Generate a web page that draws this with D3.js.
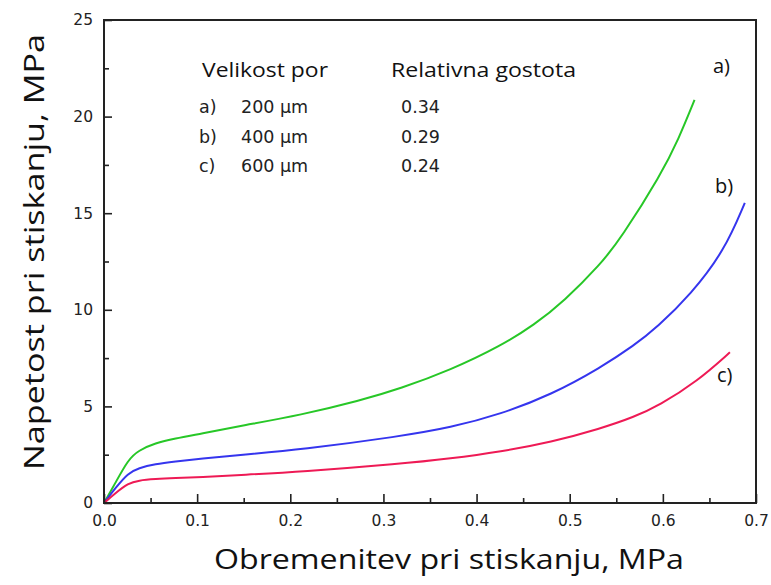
<!DOCTYPE html>
<html><head><meta charset="utf-8">
<script src="https://cdn.jsdelivr.net/npm/d3@7"></script>
<style>body{margin:0;background:#fff}svg{display:block}</style>
</head><body>
<script>
// ---- data ----
const xA = [0, 0.012, 0.026, 0.037, 0.055, 0.076, 0.103, 0.15, 0.211, 0.275, 0.318, 0.372, 0.426, 0.462, 0.494, 0.533, 0.555, 0.598, 0.617, 0.634];
const yA = [0, 1.02, 2.25, 2.72, 3.10, 3.34, 3.58, 4.02, 4.55, 5.30, 5.92, 6.88, 8.13, 9.22, 10.45, 12.35, 13.70, 17.0, 18.85, 20.86];
const xB = [0, 0.012, 0.026, 0.037, 0.055, 0.076, 0.103, 0.15, 0.211, 0.318, 0.372, 0.426, 0.48, 0.533, 0.569, 0.594, 0.630, 0.666, 0.688];
const yB = [0, 0.76, 1.55, 1.81, 2.02, 2.15, 2.30, 2.50, 2.76, 3.45, 3.90, 4.60, 5.60, 7.00, 8.15, 9.10, 10.80, 13.05, 15.54];
const xC = [0, 0.012, 0.026, 0.037, 0.055, 0.076, 0.103, 0.15, 0.211, 0.318, 0.372, 0.426, 0.48, 0.533, 0.569, 0.596, 0.637, 0.672];
const yC = [0, 0.50, 1.02, 1.17, 1.24, 1.29, 1.34, 1.46, 1.62, 2.02, 2.30, 2.66, 3.15, 3.85, 4.45, 5.05, 6.30, 7.80];
const seriesLabels = ["a)", "b)", "c)"];
const poreSizes = ["200 \u00b5m", "400 \u00b5m", "600 \u00b5m"];
const densities = ["0.34", "0.29", "0.24"];
const xTicks = [0, 0.1, 0.2, 0.3, 0.4, 0.5, 0.6, 0.7];
const yTicks = [0, 5, 10, 15, 20, 25];
const xTitle = "Obremenitev pri stiskanju, MPa";
const yTitle = "Napetost pri stiskanju, MPa";
const legendHead = ["Velikost por", "Relativna gostota"];

// ---- layout ----
const W = 771, H = 585;
const L = 104, R = 756, T = 20, B = 503;
const colors = ["#27c727", "#3535ee", "#ee1a55"];
const tf = "DejaVu Sans, sans-serif";
const lf = "Open Sans, sans-serif";

const svg = d3.select("body").append("svg").attr("width", W).attr("height", H);
const x = d3.scaleLinear().domain([0, 0.7]).range([L, R]);
const y = d3.scaleLinear().domain([0, 25]).range([B, T]);

// curves
const series = [[xA, yA], [xB, yB], [xC, yC]];
const line = d3.line().x(d => x(d[0])).y(d => y(d[1])).curve(d3.curveBasis);
series.forEach((s, i) => {
  const pts = s[0].map((v, j) => [v, s[1][j]]);
  svg.append("path").attr("d", line(pts)).attr("fill", "none")
    .attr("stroke", colors[i]).attr("stroke-width", 2);
});

// axes (ticks inward)
const axisColor = "#222";
const xMinor = d3.range(0.05, 0.7, 0.1);
const yMinor = d3.range(2.5, 25, 5);
const gx = svg.append("g").attr("transform", `translate(0,${B})`)
  .call(d3.axisBottom(x).tickValues(xTicks).tickFormat(d3.format(".1f")).tickSizeInner(-9).tickSizeOuter(0).tickPadding(12));
const gxm = svg.append("g").attr("transform", `translate(0,${B})`)
  .call(d3.axisBottom(x).tickValues(xMinor).tickFormat("").tickSizeInner(-5).tickSizeOuter(0));
const gy = svg.append("g").attr("transform", `translate(${L},0)`)
  .call(d3.axisLeft(y).tickValues(yTicks).tickFormat(d3.format("d")).tickSizeInner(-8).tickSizeOuter(0).tickPadding(11));
const gym = svg.append("g").attr("transform", `translate(${L},0)`)
  .call(d3.axisLeft(y).tickValues(yMinor).tickFormat("").tickSizeInner(-5).tickSizeOuter(0));
[gx, gxm, gy, gym].forEach(g => {
  g.select(".domain").remove();
  g.selectAll("line").attr("stroke", axisColor).attr("stroke-width", 1.6);
  g.selectAll("text").attr("font-family", tf).attr("font-size", 15.5).attr("fill", "#222");
});
// frame
svg.append("rect").attr("x", L).attr("y", T).attr("width", R - L).attr("height", B - T)
  .attr("fill", "none").attr("stroke", axisColor).attr("stroke-width", 2);

// axis titles
svg.append("text").attr("x", 449).attr("y", 569).attr("text-anchor", "middle")
  .attr("font-family", lf).attr("font-size", 28).attr("fill", "#111")
  .attr("textLength", 470).attr("lengthAdjust", "spacingAndGlyphs").text(xTitle);
svg.append("text").attr("transform", "translate(44,252) rotate(-90)").attr("text-anchor", "middle")
  .attr("font-family", lf).attr("font-size", 28).attr("fill", "#111")
  .attr("textLength", 436).attr("lengthAdjust", "spacingAndGlyphs").text(yTitle);

// legend table
svg.append("text").attr("x", 202).attr("y", 77).attr("font-family", lf).attr("font-size", 20).attr("fill", "#111")
  .attr("textLength", 126).attr("lengthAdjust", "spacingAndGlyphs").text(legendHead[0]);
svg.append("text").attr("x", 391).attr("y", 77).attr("font-family", lf).attr("font-size", 20).attr("fill", "#111")
  .attr("textLength", 185).attr("lengthAdjust", "spacingAndGlyphs").text(legendHead[1]);
const rowY = [113, 142.5, 171.5];
seriesLabels.forEach((lab, i) => {
  const g = svg.append("g").attr("font-family", tf).attr("font-size", 17.5).attr("fill", "#222");
  g.append("text").attr("x", 199).attr("y", rowY[i]).text(lab);
  g.append("text").attr("x", 241).attr("y", rowY[i]).text(poreSizes[i]);
  g.append("text").attr("x", 401).attr("y", rowY[i]).text(densities[i]);
});

// curve labels
const labPos = [[713, 73], [715, 193], [717, 382]];
seriesLabels.forEach((lab, i) => {
  svg.append("text").attr("x", labPos[i][0]).attr("y", labPos[i][1])
    .attr("font-family", lf).attr("font-size", 20).attr("fill", "#111").text(lab);
});
</script>
</body></html>
